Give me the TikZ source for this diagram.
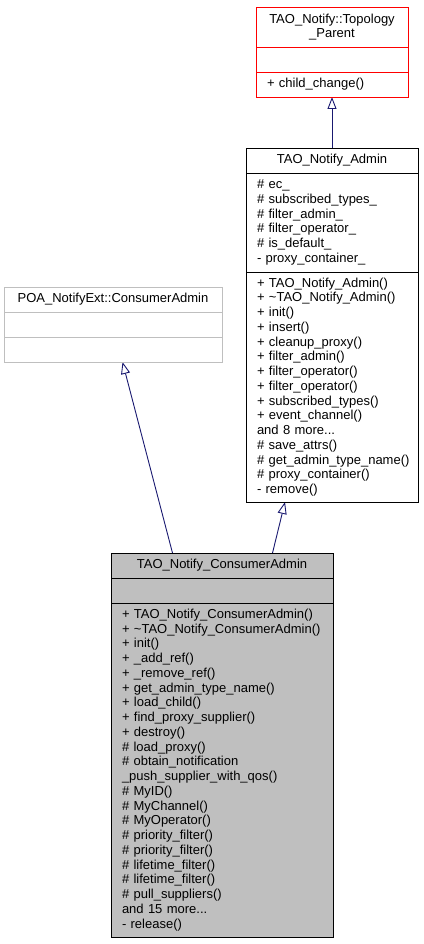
\documentclass[tikz,border=0pt]{standalone}
\usepackage{fontspec}
\setmainfont{Liberation Sans}
\usepackage{tikz}
\usetikzlibrary{arrows.meta}
\usetikzlibrary{positioning}
\usetikzlibrary{backgrounds}

\definecolor{edgeblue}{RGB}{25,25,112}
\definecolor{boxgray}{RGB}{191,191,191}

\begin{document}
\begin{tikzpicture}[
		x=1pt,
		y=-1pt,
		>={Triangle[open,length=12pt,width=9pt]},
		node distance=0pt,
		class node/.style={draw, inner sep=0pt, outer sep=0pt, line width=0.9pt,
			font=\fontsize{13}{14.75}\selectfont}
		,
		title node/.style={
			class node,
			align=center,
			anchor=north west,
			minimum height=25pt
		},
		member node/.style={
			class node,
			align=left,
			inner xsep=11pt,
			minimum height=25pt
		},
		inherit/.style={->, draw=edgeblue, line width=0.9pt}
		]
		\useasboundingbox (0,0) rectangle (423,944);

		% TAO_Notify::Topology_Parent
		\node[title node, draw=red, minimum width=152pt, minimum height=40pt] (tp) at (256,7) {TAO\_Notify::Topology\\\_Parent};
		\node[member node, draw=red, text width=130pt] (tp attrs) [below=of tp] {};
		\node[member node, draw=red, text width=130pt] (tp ops) [below=of tp attrs] {+ child\_change()};

		% TAO_Notify_Admin
		\node[title node, minimum width=172pt] (adm) at (246,148) {TAO\_Notify\_Admin};
		\node[member node, text width=150pt, minimum height=99pt] (adm attrs) [below=of adm] {\# ec\_\\\# subscribed\_types\_\\\# filter\_admin\_\\\# filter\_operator\_\\\# is\_default\_\\- proxy\_container\_};
		\node[member node, text width=150pt, minimum height=230pt] (adm ops) [below=of adm attrs] {+ TAO\_Notify\_Admin()\\+ \textasciitilde TAO\_Notify\_Admin()\\+ init()\\+ insert()\\+ cleanup\_proxy()\\+ filter\_admin()\\+ filter\_operator()\\+ filter\_operator()\\+ subscribed\_types()\\+ event\_channel()\\and 8 more...\\\# save\_attrs()\\\#~get\_admin\_type\_name()\\\# proxy\_container()\\- remove()};

		% POA_NotifyExt::ConsumerAdmin
		\node[title node, draw=boxgray, minimum width=218pt] (poa) at (4,287) {POA\_NotifyExt::ConsumerAdmin};
		\node[member node, draw=boxgray, text width=196pt] (poa attrs) [below=of poa] {};
		\node[member node, draw=boxgray, text width=196pt] (poa ops) [below=of poa attrs] {};

		% TAO_Notify_ConsumerAdmin
		\node[title node, fill=boxgray, minimum width=222pt] (ca) at (111,553) {TAO\_Notify\_ConsumerAdmin};
		\node[member node, fill=boxgray, text width=200pt] (ca attrs) [below=of ca] {};
		\node[member node, fill=boxgray, text width=200pt, minimum height=334pt] (ca ops) [below=of ca attrs] {+ TAO\_Notify\_ConsumerAdmin()\\+~\textasciitilde TAO\_Notify\_ConsumerAdmin()\\+ init()\\+ \_add\_ref()\\+ \_remove\_ref()\\+ get\_admin\_type\_name()\\+ load\_child()\\+ find\_proxy\_supplier()\\+ destroy()\\\# load\_proxy()\\\# obtain\_notification\\\_push\_supplier\_with\_qos()\\\# MyID()\\\# MyChannel()\\\# MyOperator()\\\# priority\_filter()\\\# priority\_filter()\\\# lifetime\_filter()\\\# lifetime\_filter()\\\# pull\_suppliers()\\and 15 more...\\- release()};

		\begin{pgfonlayer}{background}
		\path[inherit]
		(adm.north) edge (tp ops.south)
		([xshift=-49.5pt]ca.north) edge ([xshift=9.5pt]poa ops.south)
		([xshift=50.5pt]ca.north) edge ([xshift=-47pt]adm ops.south);
		\end{pgfonlayer}
	\end{tikzpicture}
\end{document}
